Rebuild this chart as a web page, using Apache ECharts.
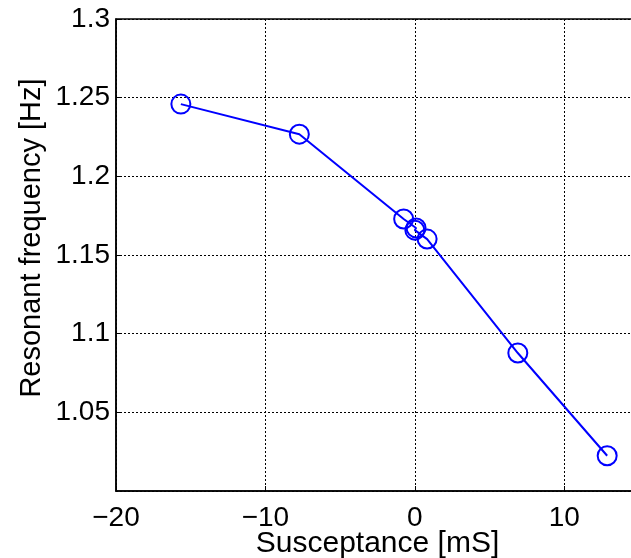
<!DOCTYPE html>
<html>
<head>
<meta charset="utf-8">
<script src="https://cdn.jsdelivr.net/npm/echarts@6/dist/echarts.min.js"></script>
<style>
  html, body { margin: 0; padding: 0; background: #fff; }
  #chart { width: 631px; height: 558px; }
</style>
</head>
<body>
<div id="chart"></div>
<script>
// values
const susceptance = [-15.66, -7.73, -0.75, 0.08, 0.0, 0.82, 6.89, 12.87];
const frequency = [1.2459, 1.2268, 1.1729, 1.1672, 1.1658, 1.1601, 1.0877, 1.0224];

let points = susceptance.map((x, i) => [x, frequency[i]]);

let chart = echarts.init(document.getElementById('chart'));
const font = 'Liberation Sans, Arial, sans-serif';

let option = {
  animation: false,
  backgroundColor: '#fff',
  grid: {
    left: 116,
    right: -8,
    top: 19,
    bottom: 67,
    outerBoundsMode: 'none',
    containLabel: false,
    show: true,
    borderColor: '#000',
    borderWidth: 1.5
  },
  xAxis: {
    type: 'value',
    min: -20,
    max: 15,
    interval: 10,
    name: 'Susceptance [mS]',
    nameLocation: 'middle',
    nameGap: 38,
    nameMoveOverlap: false,
    nameTextStyle: { fontFamily: font, fontSize: 30, color: '#000' },
    axisLine: { onZero: false, lineStyle: { color: '#000', width: 1.5 } },
    axisTick: { inside: true, length: 5, lineStyle: { color: '#000' } },
    axisLabel: {
      fontFamily: font,
      fontSize: 28,
      color: '#000',
      margin: 13,
      showMaxLabel: false,
      formatter: v => String(v).replace('-', '\u2212')
    },
    splitLine: { show: true, lineStyle: { color: '#000', type: [2, 2], width: 1 } }
  },
  yAxis: {
    type: 'value',
    min: 1.0,
    max: 1.3,
    interval: 0.05,
    name: 'Resonant frequency [Hz]',
    nameLocation: 'middle',
    nameGap: 70,
    nameMoveOverlap: false,
    nameTextStyle: { fontFamily: font, fontSize: 29, color: '#000', padding: [0, 0, 0, 34] },
    axisLine: { show: true, onZero: false, lineStyle: { color: '#000', width: 1.5 } },
    axisTick: { show: true, inside: true, length: 5, lineStyle: { color: '#000' } },
    axisLabel: {
      fontFamily: font,
      fontSize: 28,
      color: '#000',
      margin: 6,
      showMinLabel: false
    },
    splitLine: { show: true, lineStyle: { color: '#000', type: [2, 2], width: 1 } }
  },
  series: [
    {
      type: 'line',
      data: points,
      symbol: 'circle',
      symbolSize: 19,
      itemStyle: { color: 'rgba(0,0,0,0)', borderColor: '#0000ff', borderWidth: 2 },
      lineStyle: { color: '#0000ff', width: 2 },
      z: 3
    }
  ]
};
chart.setOption(option);
</script>
</body>
</html>
